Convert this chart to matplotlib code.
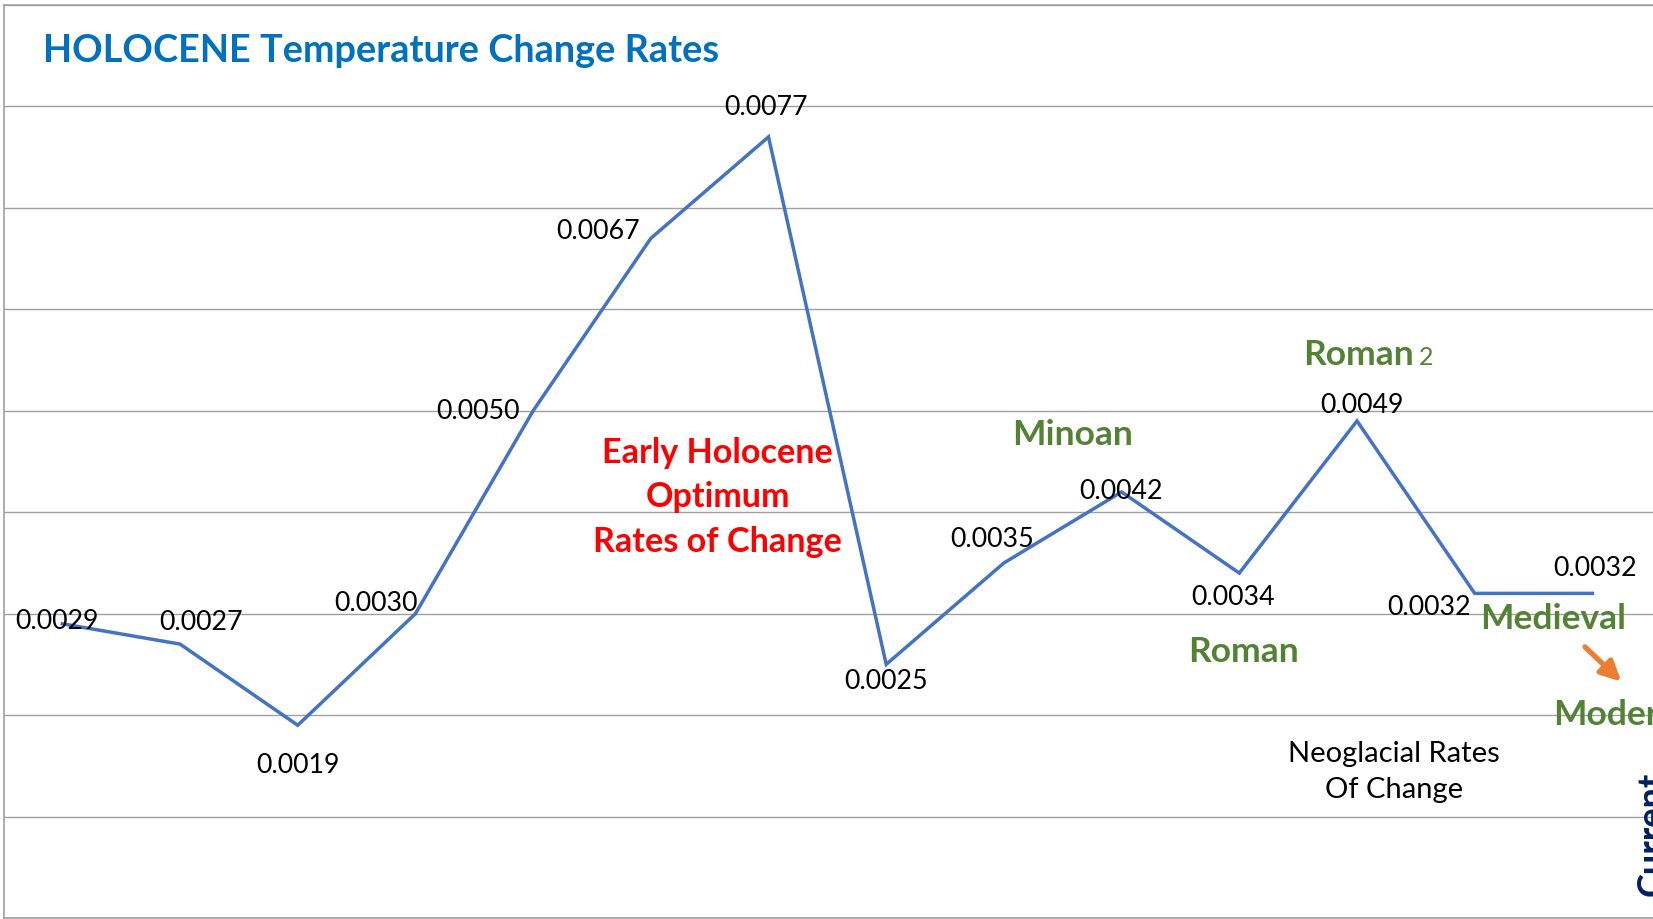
import matplotlib
matplotlib.use("Agg")
import matplotlib.pyplot as plt

plt.rcParams['font.family'] = ['Lato', 'DejaVu Sans']

# taux de variation de temperature par periode
values = [0.0029, 0.0027, 0.0019, 0.0030, 0.0050, 0.0067, 0.0077,
          0.0025, 0.0035, 0.0042, 0.0034, 0.0049, 0.0032, 0.0032]
labels = ["%.4f" % v for v in values]
x = list(range(len(values)))

# decalage des etiquettes (pixels, x droite / y bas, centre du texte)
lbl_off = [(-5.5, -5), (21, -23.4), (0, 38.5), (-39.5, -12), (-55.5, -1),
           (-53, -8.8), (-3, -32), (-0.6, 15.3), (-12, -25.6), (-0.3, -3),
           (-6, 22.3), (5, -17.8), (-45.6, 12), (2.5, -27.2)]

GREEN = '#548235'
RED = '#FF0000'
BLUE_LINE = '#4472C4'
GRID = '#A0A0A0'
LBL_FS = 19.3
BIG_FS = 25.5

fig = plt.figure(figsize=(16.53, 9.19), dpi=100)
ax = fig.add_axes([3.5 / 1653, 1 / 919, 1649.5 / 1653, 913 / 919])
ax.set_xlim(-0.5, 13.515)
ax.set_ylim(0, 0.009)

ax.set_yticks([i * 0.001 for i in range(10)])
ax.grid(axis='y', color=GRID, lw=1.0)
ax.set_axisbelow(True)
ax.tick_params(left=False, bottom=False, labelleft=False, labelbottom=False)
for s in ['left', 'top', 'bottom']:
    ax.spines[s].set_color(GRID)
    ax.spines[s].set_linewidth(1.2)
ax.spines['right'].set_visible(False)

ax.plot(x, values, color=BLUE_LINE, lw=2.5, solid_joinstyle='miter')

# etiquettes de valeurs
for xi, v, t, (dx, dy) in zip(x, values, labels, lbl_off):
    ax.annotate(t, (xi, v), xytext=(dx, -dy - 9.7), textcoords='offset pixels',
                ha='center', va='baseline', fontsize=LBL_FS, color='black')

# titre
fig.text(43 / 1653, 1 - 51 / 919, "HOLOCENE Temperature Change Rates",
         ha='left', va='center', fontsize=27.3, fontweight='bold', color='#0070C0')

# optimum de l'holocene
for txt, yb in [("Early Holocene", 0.004490), ("Optimum", 0.004050),
                ("Rates of Change", 0.003610)]:
    ax.text(5.567, yb, txt, ha='center', va='baseline', fontsize=24.6,
            fontweight='bold', color=RED)

# periodes chaudes
ax.text(8.587, 0.004660, "Minoan", ha='center', va='baseline', fontsize=BIG_FS,
        fontweight='bold', color=GREEN)
ax.text(10.036, 0.002520, "Roman", ha='center', va='baseline', fontsize=BIG_FS,
        fontweight='bold', color=GREEN)
ax.text(10.542, 0.005450, "Roman", ha='left', va='baseline', fontsize=BIG_FS,
        fontweight='bold', color=GREEN)
ax.text(11.528, 0.005450, "2", ha='left', va='baseline', fontsize=18,
        color=GREEN)
ax.text(12.046, 0.002850, "Medieval", ha='left', va='baseline', fontsize=BIG_FS,
        fontweight='bold', color=GREEN)
ax.text(12.666, 0.001900, "Modern", ha='left', va='baseline', fontsize=BIG_FS,
        fontweight='bold', color=GREEN, clip_on=False)
ax.annotate('', xy=(13.245, 0.002330), xytext=(12.937, 0.002673),
            arrowprops=dict(arrowstyle='-|>', color='#ED7D31', lw=3.8,
                            mutation_scale=30, shrinkA=0, shrinkB=0))

ax.text(11.316, 0.001541, "Neoglacial Rates", ha='center', va='baseline',
        fontsize=21, color='black')
ax.text(11.316, 0.001183, "Of Change", ha='center', va='baseline',
        fontsize=21, color='black')

ax.text(13.365, 0.000217, "Current", rotation=90, ha='left', va='bottom',
        fontsize=26, fontweight='bold', color='#002060', clip_on=False)

fig.savefig("out.png", dpi=100)
